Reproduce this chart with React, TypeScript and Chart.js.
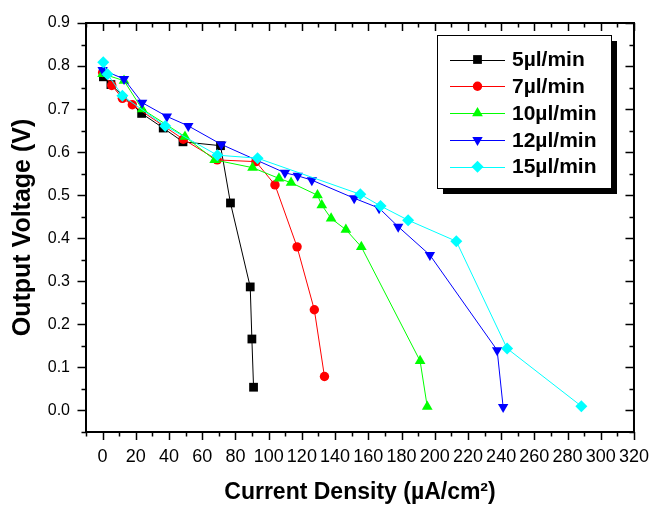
import React, { useEffect, useRef } from "react";
import { Chart, registerables } from "chart.js";

Chart.register(...registerables);

// Flow-rate series: current density (µA/cm²) and output voltage (V)
const seriesNames = ["5µl/min", "7µl/min", "10µl/min", "12µl/min", "15µl/min"];
const seriesColors = ["#000000", "#ff0000", "#00ff00", "#0000ff", "#00ffff"];
const seriesMarkers = ["rect", "circle", "triangle", "triangleDown", "rectRot"];

const current5 = [0.5, 5, 23.5, 36.5, 48.4, 71, 77, 88.9, 89.9, 90.9];
const voltage5 = [0.775, 0.757, 0.69, 0.656, 0.624, 0.615, 0.482, 0.287, 0.166, 0.054];

const current7 = [0, 5.5, 11.9, 17.9, 48.6, 69, 92.3, 103.8, 117.1, 127.5, 133.6];
const voltage7 = [0.785, 0.755, 0.725, 0.71, 0.63, 0.582, 0.578, 0.524, 0.38, 0.234, 0.079];

const current10 = [0, 12.9, 23.8, 49.6, 67.5, 90.3, 106.2, 113.5, 129.4, 132, 137.6, 146.5, 155.8, 191.2, 195.5];
const voltage10 = [0.782, 0.766, 0.7, 0.636, 0.582, 0.564, 0.539, 0.529, 0.5, 0.477, 0.446, 0.42, 0.38, 0.115, 0.009];

const current12 = [0, 12.9, 23.8, 38.7, 51.6, 71.5, 109.8, 117.5, 126, 151.5, 166.5, 178, 197.1, 237.6, 241.2];
const voltage12 = [0.791, 0.77, 0.715, 0.683, 0.661, 0.618, 0.552, 0.545, 0.535, 0.493, 0.47, 0.427, 0.361, 0.14, 0.008];

const current15 = [0.4, 3, 11.9, 37.7, 69.1, 93.3, 155.2, 167.4, 184, 213, 243.6, 288.3];
const voltage15 = [0.809, 0.781, 0.731, 0.661, 0.593, 0.586, 0.502, 0.475, 0.442, 0.393, 0.144, 0.01];

const currents = [current5, current7, current10, current12, current15];
const voltages = [voltage5, voltage7, voltage10, voltage12, voltage15];

// Axis ticks
const xTickValues = [0, 20, 40, 60, 80, 100, 120, 140, 160, 180, 200, 220, 240, 260, 280, 300, 320];
const yTickValues = [0, 0.1, 0.2, 0.3, 0.4, 0.5, 0.6, 0.7, 0.8, 0.9];
const xRange = [-10, 320];
const yRange = [-0.05, 0.9];

const FONT = "'Liberation Sans', Arial, Helvetica, sans-serif";

function drawMarker(ctx: CanvasRenderingContext2D, style: string, x: number, y: number, r: number, color: string) {
  ctx.save();
  ctx.fillStyle = color;
  ctx.beginPath();
  if (style === "rect") {
    const s = r * Math.SQRT1_2;
    ctx.rect(x - s, y - s, 2 * s, 2 * s);
  } else if (style === "circle") {
    ctx.arc(x, y, r, 0, Math.PI * 2);
  } else if (style === "triangle") {
    ctx.moveTo(x, y - r);
    ctx.lineTo(x + r * 0.866, y + r / 2);
    ctx.lineTo(x - r * 0.866, y + r / 2);
    ctx.closePath();
  } else if (style === "triangleDown") {
    ctx.moveTo(x, y + r);
    ctx.lineTo(x + r * 0.866, y - r / 2);
    ctx.lineTo(x - r * 0.866, y - r / 2);
    ctx.closePath();
  } else {
    ctx.moveTo(x, y - r);
    ctx.lineTo(x + r, y);
    ctx.lineTo(x, y + r);
    ctx.lineTo(x - r, y);
    ctx.closePath();
  }
  ctx.fill();
  ctx.restore();
}

const markerRadius: Record<string, number> = { rect: 6.2, circle: 4.7, triangle: 6.2, triangleDown: 6, rectRot: 6 };

// Boxed frame with outward ticks on bottom/left and inward mirror ticks on top/right
const framePlugin = {
  id: "frame",
  afterDatasetsDraw(chart: any) {
    const { ctx, chartArea: a, scales } = chart;
    const xs = scales.x;
    const ys = scales.y;
    ctx.save();
    ctx.strokeStyle = "#000";
    ctx.lineWidth = 1.5;
    ctx.beginPath();
    for (let v = xRange[0]; v <= xRange[1] + 1e-9; v += 10) {
      const major = Math.abs(v % 20) < 1e-6;
      const px = Math.round(xs.getPixelForValue(v)) + 0.5;
      const len = major ? 8 : 4.5;
      ctx.moveTo(px, a.bottom);
      ctx.lineTo(px, a.bottom + len);
      ctx.moveTo(px, a.top);
      ctx.lineTo(px, a.top + len);
    }
    for (let i = 0; i <= 19; i++) {
      const v = yRange[0] + i * 0.05;
      const major = i % 2 === 1;
      const py = Math.round(ys.getPixelForValue(v)) + 0.5;
      const len = major ? 8.5 : 4.5;
      ctx.moveTo(a.left, py);
      ctx.lineTo(a.left - len, py);
      ctx.moveTo(a.right, py);
      ctx.lineTo(a.right - len, py);
    }
    ctx.stroke();
    ctx.lineWidth = 2;
    ctx.strokeRect(a.left, a.top, a.right - a.left, a.bottom - a.top);
    ctx.restore();
  },
  afterDraw(chart: any) {
    const { ctx } = chart;
    const bx = 437, by = 35, bw = 174, bh = 153;
    ctx.save();
    ctx.fillStyle = "#000";
    ctx.fillRect(bx + 6, by + 6, bw, bh);
    ctx.fillStyle = "#fff";
    ctx.fillRect(bx, by, bw, bh);
    ctx.strokeStyle = "#000";
    ctx.lineWidth = 1;
    ctx.strokeRect(bx + 0.5, by + 0.5, bw, bh);
    ctx.font = `bold 21px ${FONT}`;
    ctx.textBaseline = "middle";
    ctx.textAlign = "left";
    seriesNames.forEach((name, i) => {
      const y = 59.5 + i * 26.8;
      ctx.strokeStyle = seriesColors[i];
      ctx.lineWidth = 1;
      ctx.beginPath();
      ctx.moveTo(450, Math.round(y) + 0.5);
      ctx.lineTo(505, Math.round(y) + 0.5);
      ctx.stroke();
      drawMarker(ctx, seriesMarkers[i], 477.5, y, markerRadius[seriesMarkers[i]], seriesColors[i]);
      ctx.fillStyle = "#000";
      ctx.fillText(name, 512, y + 1);
    });
    ctx.restore();
  },
};

export default function App() {
  const canvasRef = useRef<HTMLCanvasElement | null>(null);

  useEffect(() => {
    const canvas = canvasRef.current;
    if (!canvas) return;
    const datasets = seriesNames.map((name, i) => {
      const style = seriesMarkers[i];
      return {
        label: name,
        data: currents[i].map((x, j) => ({ x, y: voltages[i][j] })),
        showLine: true,
        borderColor: seriesColors[i],
        backgroundColor: seriesColors[i],
        borderWidth: 1,
        pointStyle: style === "triangleDown" ? "triangle" : style,
        rotation: style === "triangleDown" ? 180 : 0,
        pointRadius: markerRadius[style],
        pointBorderWidth: 0,
        pointBackgroundColor: seriesColors[i],
        order: 4 - i,
        clip: false as any,
      };
    });

    const chart = new Chart(canvas, {
      type: "scatter",
      data: { datasets },
      plugins: [framePlugin],
      options: {
        responsive: false,
        animation: false,
        layout: { padding: { left: 0, top: 23, right: 16, bottom: 0 } },
        plugins: { legend: { display: false }, tooltip: { enabled: false } },
        scales: {
          x: {
            type: "linear",
            min: xRange[0],
            max: xRange[1],
            afterBuildTicks: (s: any) => {
              s.ticks = xTickValues.map((v) => ({ value: v }));
            },
            afterFit: (s: any) => {
              s.height = 74;
            },
            grid: { drawOnChartArea: false, drawTicks: true, tickLength: 8, color: "rgba(0,0,0,0)" },
            border: { display: false },
            ticks: {
              autoSkip: false,
              maxRotation: 0,
              padding: 6,
              color: "#000",
              font: { family: FONT, size: 18 },
              callback: (v: any) => String(v),
            },
            title: {
              display: true,
              text: "Current Density (µA/cm²)",
              color: "#000",
              font: { family: FONT, size: 23, weight: "bold" },
              padding: { top: 0, bottom: 0 },
            },
          },
          y: {
            type: "linear",
            min: yRange[0],
            max: yRange[1],
            afterBuildTicks: (s: any) => {
              s.ticks = yTickValues.map((v) => ({ value: v }));
            },
            afterFit: (s: any) => {
              s.width = 86;
            },
            grid: { drawOnChartArea: false, drawTicks: true, tickLength: 9, color: "rgba(0,0,0,0)" },
            border: { display: false },
            ticks: {
              autoSkip: false,
              padding: 7,
              color: "#000",
              font: { family: FONT, size: 16 },
              callback: (v: any) => Number(v).toFixed(1),
            },
            title: {
              display: true,
              text: "Output Voltage (V)",
              color: "#000",
              font: { family: FONT, size: 25, weight: "bold" },
              padding: { top: 8, bottom: 0 },
            },
          },
        },
      },
    });
    return () => chart.destroy();
  }, []);

  return (
    <div style={{ position: "fixed", left: 0, top: 0, width: 655, height: 506, background: "#fff" }}>
      <canvas ref={canvasRef} width={655} height={506} style={{ display: "block" }} />
    </div>
  );
}
